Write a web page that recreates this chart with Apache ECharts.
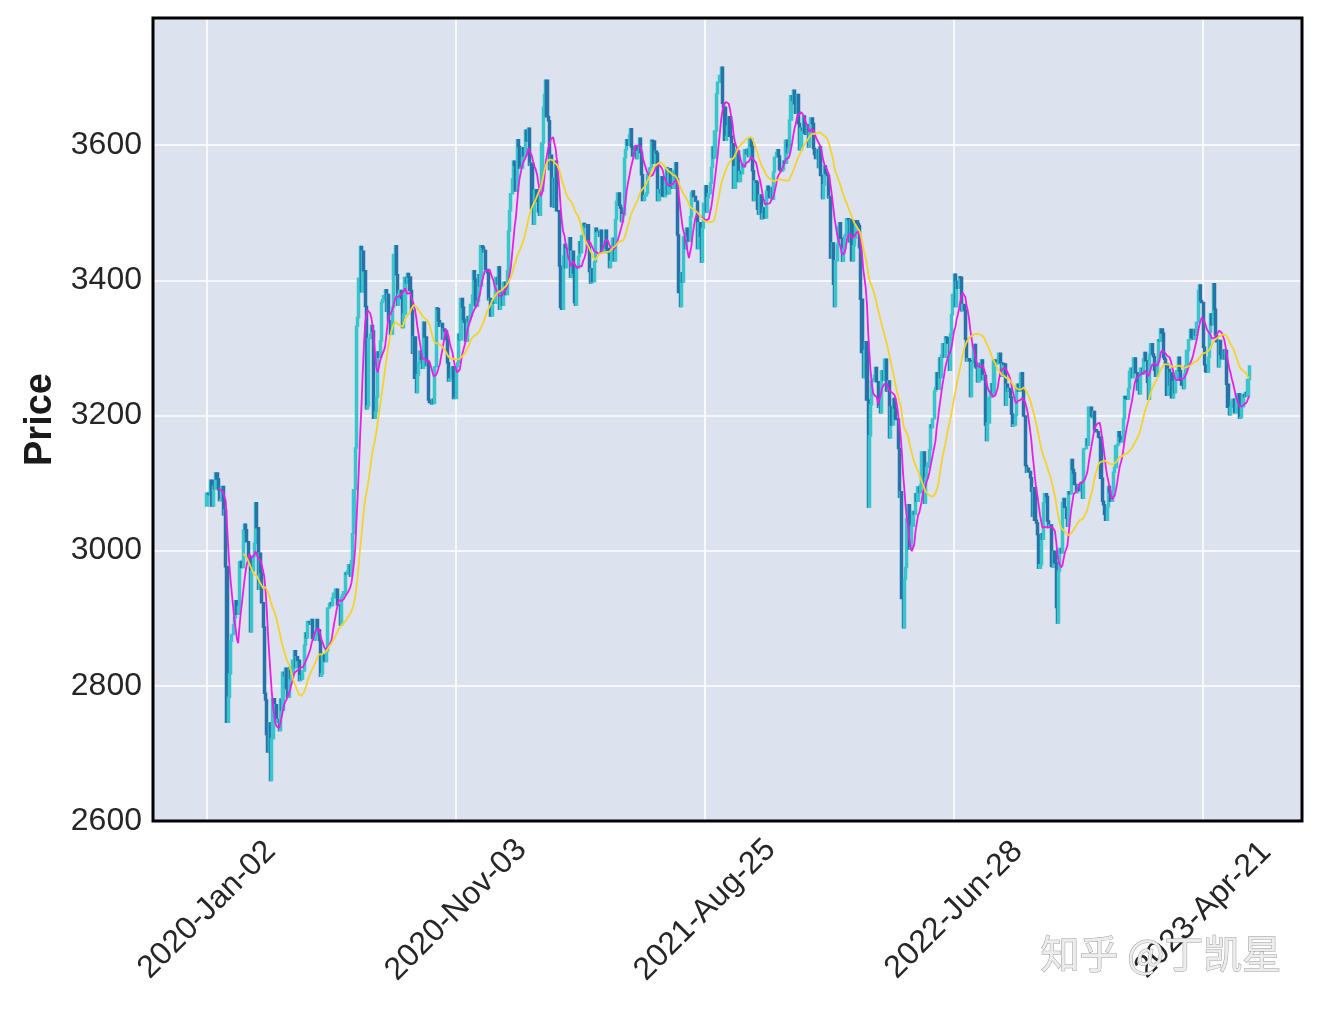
<!DOCTYPE html>
<html><head><meta charset="utf-8">
<script src="https://cdn.jsdelivr.net/npm/echarts@6/dist/echarts.min.js"></script>
<style>html,body{margin:0;padding:0;background:#fff}#c{width:1320px;height:1009px}</style>
</head><body><div id="c"></div>
<script>
// Daily closes (2020-01-02 .. 2023-06-16)
const close2020 = [
3085,3084,3083,3104,3066,3095,3092,3115,3106,3090,3074,3075,3095,3053,3060,2976,
2746,2783,2818,2866,2876,2890,2901,2926,2906,2917,2983,2984,2975,3030,3039,3031,3013,2987,2991,2880,
2970,2992,3011,3071,3034,2943,2996,2968,2923,2887,2789,2779,2728,2702,2745,2660,2722,2781,2764,2772,2747,2750,
2734,2780,2764,2820,2815,2826,2796,2783,2827,2811,2819,2838,2852,2827,2843,2838,2808,2815,2810,2822,2860,
2878,2871,2895,2894,2891,2898,2870,2868,2875,2898,2883,2867,2814,2818,2846,2837,2836,2852,
2915,2921,2923,2919,2930,2937,2943,2943,2920,2919,2890,2931,2935,2939,2967,2965,2970,2979,2962,2985,
3025,3090,3152,3332,3345,3403,3450,3383,3443,3414,3361,3210,3214,3314,3320,3333,3325,3196,3205,3227,3294,3286,3310,
3367,3371,3377,3386,3354,3379,3340,3320,3320,3360,3438,3451,3408,3363,3380,3385,3373,3330,3350,3404,3396,
3410,3405,3385,3355,3292,3316,3255,3234,3260,3278,3295,3283,3270,3338,3316,3274,3279,3223,3219,3217,3224,3218,
3272,3359,3358,3340,3332,3336,3313,3328,3325,3312,3278,3251,3254,3270,3272,3225,
3225,3272,3278,3320,3312,3373,3360,3342,3338,3310,3346,3339,3347,3364,3378,3414,3402,3362,3369,3408,3392,
3451,3449,3442,3444,3416,3411,3371,3373,3347,3369,3367,3366,3404,3394,3420,3357,3383,3363,3397,3397,3379,3414,3473
];
const close2021 = [
3503,3528,3550,3576,3570,3532,3608,3598,3566,3566,3596,3584,3584,3622,3606,3625,3570,3573,3506,3483,
3533,3534,3517,3501,3496,3532,3603,3656,3675,3696,3642,3636,3564,3585,3509,
3551,3508,3576,3503,3502,3421,3360,3357,3436,3453,3419,3446,3445,3463,3405,3443,3411,3367,3363,3418,3435,3457,3441,
3466,3484,3482,3479,3482,3450,3413,3396,3417,3398,3427,3477,3472,3472,3465,3474,3441,3442,3457,3474,3447,
3441,3419,3428,3441,3462,3429,3490,3517,3529,3511,3507,3487,3497,3581,3593,3608,3600,3615,
3624,3597,3584,3592,3599,3580,3591,3610,3589,3556,3518,3525,3525,3529,3557,3566,3566,3607,3606,3573,3591,
3588,3518,3534,3530,3553,3525,3524,3547,3566,3528,3565,3539,3539,3536,3562,3574,3550,3467,3382,3361,3411,3397,
3464,3447,3477,3466,3458,3494,3530,3532,3524,3517,3517,3447,3485,3465,3427,3477,3514,3540,3501,3522,3528,3544,
3567,3597,3581,3621,3676,3693,3693,3703,3715,3662,3656,3607,3613,3628,3642,3613,3582,3602,3536,3568,
3592,3591,3546,3561,3558,3572,3568,3593,3587,3594,3583,3609,3598,3562,3518,3547,
3545,3505,3498,3526,3491,3498,3507,3492,3532,3539,3533,3522,3537,3520,3560,3582,3589,3593,3584,3564,3562,3564,
3576,3573,3607,3589,3595,3637,3673,3666,3681,3661,3647,3675,3632,3593,3625,3622,3643,3618,3616,3630,3597,3619,3640
];
const close2022 = [
3632,3595,3586,3580,3593,3567,3597,3555,3521,3541,3569,3558,3555,3522,3524,3433,3455,3394,3361,
3429,3453,3479,3485,3462,3428,3446,3465,3468,3491,3490,3457,3489,3429,3451,3462,
3488,3484,3481,3448,3372,3293,3256,3296,3309,3223,3064,3170,3216,3251,3254,3259,3271,3250,3212,3214,3204,3266,3252,
3283,3283,3236,3251,3167,3213,3186,3225,3211,3195,3194,3151,3079,3087,2929,2886,2958,2975,3047,
3068,3002,3004,3036,3058,3054,3084,3073,3094,3086,3097,3146,3146,3070,3107,3123,3130,3149,3186,
3182,3195,3236,3241,3263,3239,3285,3256,3289,3306,3286,3316,3315,3307,3267,3320,3349,3379,3409,3361,3398,
3388,3405,3404,3355,3364,3356,3313,3281,3284,3281,3228,3278,3279,3305,3272,3270,3250,3277,3275,3282,3253,
3259,3186,3163,3189,3227,3237,3247,3230,3282,3276,3277,3277,3292,3278,3258,3277,3276,3215,3246,3236,3240,3227,3202,
3184,3186,3200,3243,3246,3236,3262,3263,3237,3199,3126,3116,3122,3117,3108,3088,3051,3093,3045,3041,3024,
2974,2979,3025,3017,3071,3084,3080,3044,3035,3038,2977,2976,2999,2982,2916,2893,
2970,3003,2997,3071,3077,3064,3048,3036,3087,3084,3135,3120,3115,3098,3086,3089,3097,3089,3101,3078,3150,3151,
3165,3156,3212,3212,3199,3197,3206,3179,3176,3176,3168,3167,3107,3073,3068,3054,3045,3065,3095,3087,3073,3089
];
const close2023 = [
3116,3123,3155,3157,3176,3169,3161,3163,3195,3228,3225,3224,3240,3265,3270,3256,
3285,3285,3263,3238,3248,3232,3270,3261,3284,3293,3281,3249,3224,3290,3306,3291,3287,3267,3258,3280,
3312,3310,3328,3322,3286,3283,3276,3230,3268,3245,3263,3226,3250,3234,3255,3266,3286,3266,3252,3245,3240,3261,3273,
3296,3312,3312,3327,3315,3313,3327,3319,3338,3385,3393,3370,3367,3301,3275,3265,3264,3286,3323,
3350,3334,3395,3357,3319,3309,3272,3311,3290,3284,3297,3284,3296,3246,3212,3201,3212,3221,3224,3204,
3204,3231,3232,3196,3197,3213,3231,3228,3234,3229,3253,3273
];
const firstOpen = 3066;
const tickIndex = [0, 200, 400, 600, 800];
const tickLabels = ['2020-Jan-02', '2020-Nov-03', '2021-Aug-25', '2022-Jun-28', '2023-Apr-21'];
const maPeriods = [10, 30];

const closes = [].concat(close2020, close2021, close2022, close2023);
const candles = closes.map((c, i) => {
  const o = i === 0 ? firstOpen : closes[i - 1];
  return [i, o, c, Math.min(o, c), Math.max(o, c)];
});
function movingAvg(n) {
  const out = [];
  for (let i = n - 1; i < closes.length; i++) {
    let s = 0;
    for (let k = i - n + 1; k <= i; k++) s += closes[k];
    out.push([i, s / n]);
  }
  return out;
}

const chart = echarts.init(document.getElementById('c'));
const FONT = '"Liberation Sans", Arial, sans-serif';
chart.setOption({
  animation: false,
  backgroundColor: '#ffffff',
  grid: {
    left: 153, right: 18, top: 18, bottom: 188,
    show: true, backgroundColor: '#dce2ee', borderWidth: 0
  },
  xAxis: {
    type: 'value', min: -43.4, max: 879.4,
    axisLine: { show: false },
    axisTick: { show: false, customValues: tickIndex },
    axisLabel: {
      customValues: tickIndex,
      formatter: v => tickLabels[tickIndex.indexOf(v)] || '',
      rotate: 45, align: 'center', verticalAlign: 'middle', margin: 89,
      fontSize: 32, color: '#262626', fontFamily: FONT
    },
    splitLine: { show: true, lineStyle: { color: '#ffffff', width: 1.6 } }
  },
  yAxis: {
    type: 'value', min: 2600, max: 3788, interval: 200,
    name: 'Price', nameLocation: 'middle', nameRotate: 90, nameGap: 88,
    nameTextStyle: { fontSize: 38, fontWeight: 'bold', color: '#1a1a1a', fontFamily: FONT },
    axisLine: { show: false }, axisTick: { show: false },
    axisLabel: { fontSize: 32, color: '#262626', margin: 11, fontFamily: FONT, showMaxLabel: false,
      formatter: v => String(v) },
    splitLine: { show: true, lineStyle: { color: '#ffffff', width: 1.6 } }
  },
  series: [
    {
      type: 'candlestick', large: false, barWidth: 2.6,
      dimensions: ['idx', 'open', 'close', 'lowest', 'highest'],
      encode: { x: 'idx', y: ['open', 'close', 'lowest', 'highest'] },
      data: candles,
      itemStyle: {
        color: '#38c6cc', color0: '#2673a9',
        borderColor: '#38c6cc', borderColor0: '#2673a9', borderWidth: 1.5
      },
      z: 2
    },
    {
      type: 'line', data: movingAvg(maPeriods[0]), showSymbol: false, symbol: 'none',
      lineStyle: { color: '#ea1ee8', width: 1.8 }, z: 3
    },
    {
      type: 'line', data: movingAvg(maPeriods[1]), showSymbol: false, symbol: 'none',
      lineStyle: { color: '#f6d22e', width: 1.8 }, z: 4
    }
  ],
  graphic: [
    {
      type: 'rect', z: 50, silent: true,
      shape: { x: 153, y: 18, width: 1149, height: 803 },
      style: { fill: null, stroke: '#000000', lineWidth: 3 }
    },
    {
      type: 'text', left: 1040, top: 933, z: 100,
      style: {
        text: '知乎 @丁凯星', font: '39px "Noto Sans CJK SC"',
        fill: '#ececec', stroke: '#9c9c9c', lineWidth: 1
      }
    }
  ]
});
</script>
</body></html>
